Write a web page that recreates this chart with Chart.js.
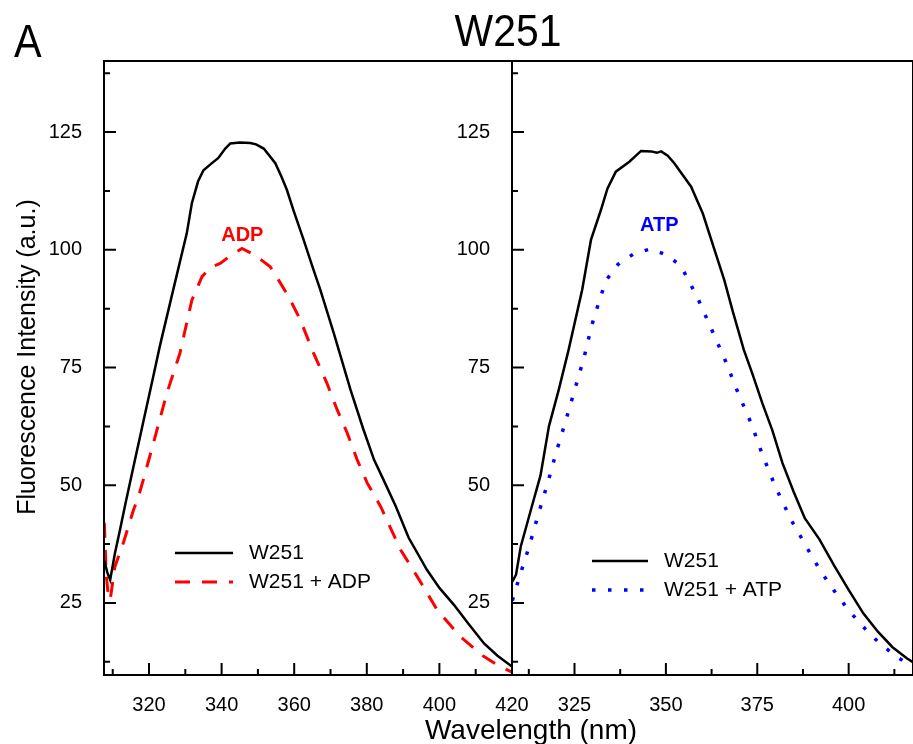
<!DOCTYPE html>
<html>
<head>
<meta charset="utf-8">
<script src="https://cdn.jsdelivr.net/npm/chart.js@4.4.1/dist/chart.umd.min.js"></script>
<style>
    body { margin: 0; background: #fff; }
    #wrap { position: relative; width: 913px; height: 744px; overflow: hidden; background: #fff;
            font-family: "Liberation Sans", Arial, sans-serif; color: #000; }
    #wrap canvas { position: absolute; top: 0; }
    .txt { position: absolute; white-space: nowrap; line-height: 1; }
</style>
</head>
<body>
<div id="wrap">
    <canvas id="leftPanel" width="560" height="744" style="left:0;width:560px;height:744px"></canvas>
    <canvas id="rightPanel" width="457" height="744" style="left:456px;width:457px;height:744px"></canvas>
    <div class="txt" style="left:14px;top:18px;font-size:46px;transform:scaleX(0.9);transform-origin:left top">A</div>
    <div class="txt" style="left:508px;top:9px;font-size:44px;transform:translateX(-50%) scaleX(0.93)">W251</div>
    <div class="txt" style="left:531px;top:716px;font-size:28px;transform:translateX(-50%)">Wavelength (nm)</div>
    <div class="txt" style="left:26px;top:357px;font-size:25px;transform:translate(-50%,-50%) rotate(-90deg)">Fluorescence Intensity (a.u.)</div>
</div>
<script>
// values
const leftW251Wl  = [307.7, 308.5, 309.3, 310.6, 312, 313.4, 315.2, 318.4, 321.2, 323, 326.7, 330.4, 331.8, 333.5, 335, 337, 339.1, 341, 342.4, 345, 347.9, 349.5, 351.6, 354.8, 356.5, 358, 359.8, 362.6, 365, 367.2, 370.9, 375.5, 379, 382, 385, 388, 391.5, 396.6, 400, 404, 408, 412.3, 416, 420];
const leftW251Int = [34, 31.5, 29.9, 35.5, 40.5, 45.7, 52.1, 63.4, 73.2, 79.6, 91.6, 103.5, 109.9, 114.5, 116.9, 118.2, 119.5, 121.5, 122.6, 122.8, 122.7, 122.4, 121.5, 118.4, 115.5, 112.7, 108.4, 102.1, 96.5, 91.5, 82.3, 70.3, 62, 55.4, 50.5, 45.5, 38.9, 32.0, 28.2, 24.6, 20.6, 16.4, 13.8, 11.5];

const leftAdpWl  = [307.7, 308.2, 308.8, 309.3, 310.6, 312.9, 315.7, 317.1, 318.4, 321.2, 324.9, 328.5, 331.8, 334.6, 337, 339.6, 342, 345.6, 348.4, 351, 353.4, 356, 358.5, 361.7, 365.3, 369, 371.8, 374.6, 377.3, 380.1, 383.8, 389.3, 393.9, 399.4, 405.8, 412.3, 416, 420];
const leftAdpInt = [42, 31, 26.5, 25.6, 32.7, 37.7, 44.7, 47.6, 51.1, 58.9, 69.5, 78.0, 89.3, 94.3, 96.3, 97.1, 98.5, 100.3, 99.2, 97.8, 96.4, 93.2, 90.0, 85.1, 78.1, 71.7, 66.1, 61.1, 55.5, 50.5, 45.5, 36.3, 30.6, 23.5, 17.8, 13.6, 11.8, 10.3];

const rightW251Wl  = [308, 309, 310.3, 313.4, 315.7, 318, 320.7, 323.4, 327.1, 329.5, 332.2, 334, 336.3, 340, 343.2, 346, 347.5, 348.7, 350.5, 352.3, 356.9, 360.1, 363.3, 366, 368.2, 371.3, 373.6, 376.4, 379.1, 381.9, 385, 388, 392, 396, 400, 404, 408, 412, 416, 418];
const rightW251Int = [29.5, 31, 37, 45.7, 52.1, 62.5, 70.3, 78.8, 91.5, 102.1, 108.4, 113, 116.6, 118.7, 121.0, 120.9, 120.6, 120.9, 120, 118.4, 113.4, 107.7, 100.0, 93.5, 87.2, 78.8, 73.8, 67.4, 61.7, 54.7, 48.5, 43, 38.5, 33, 27.8, 22.8, 18.9, 15.6, 13.2, 12.2];

const rightAtpWl  = [308, 309.8, 312.6, 314.9, 317.6, 320, 322.6, 325.1, 327.6, 329.7, 332.3, 334, 336.9, 341.3, 345.9, 350.2, 354.1, 356.4, 358.6, 362.5, 366.3, 369.7, 373.4, 376.5, 380, 384.3, 388.9, 391.6, 394.3, 397.5, 400.7, 404.4, 408.5, 413.1, 418];
const rightAtpInt = [25.5, 30.2, 37.0, 43.3, 50.3, 57.0, 63.7, 70.4, 77.1, 83.9, 90.5, 93.9, 96.9, 99.2, 100.2, 98.9, 96.6, 93.2, 89.9, 83.1, 76.4, 69.7, 63.0, 56.3, 49.6, 42.6, 36.3, 32.7, 29.5, 26.0, 22.8, 19.6, 16.4, 13.6, 11.2];

const leftXMajor  = [320, 340, 360, 380, 400, 420];
const leftXMinor  = [310, 330, 350, 370, 390, 410];
const rightXMajor = [325, 350, 375, 400];
const rightXMinor = [312.5, 337.5, 362.5, 387.5, 412.5];
const yMajor = [25, 50, 75, 100, 125];
const yMinor = [12.5, 37.5, 62.5, 87.5, 112.5, 137.5];

Chart.defaults.font.family = '"Liberation Sans", Arial, sans-serif';
Chart.defaults.color = '#000';

const toPoints = (wl, inten) => wl.map((x, i) => ({ x: x, y: inten[i] }));

// box around the plot plus inward major/minor ticks
const frameTicks = {
    id: 'frameTicks',
    afterDraw(chart, args, opts) {
        const ctx = chart.ctx;
        const a = chart.chartArea;
        const xs = chart.scales.x, ys = chart.scales.y;
        ctx.save();
        ctx.strokeStyle = '#000';
        ctx.lineWidth = 2;
        ctx.strokeRect(a.left, a.top, a.right - a.left, a.bottom - a.top);
        ctx.beginPath();
        const xTick = (v, len) => { const p = xs.getPixelForValue(v); ctx.moveTo(p, a.bottom); ctx.lineTo(p, a.bottom - len); };
        const yTick = (v, len) => { const p = ys.getPixelForValue(v); ctx.moveTo(a.left, p); ctx.lineTo(a.left + len, p); };
        opts.xMajor.forEach(v => xTick(v, 12));
        opts.xMinor.forEach(v => xTick(v, 6));
        yMajor.forEach(v => yTick(v, 12));
        yMinor.forEach(v => yTick(v, 6));
        ctx.stroke();
        ctx.restore();
    }
};

// legend inside the plot, drawn from the dataset styles
const inlineLegend = {
    id: 'inlineLegend',
    afterDatasetsDraw(chart, args, opts) {
        const ctx = chart.ctx;
        const a = chart.chartArea;
        chart.data.datasets.forEach((ds, i) => {
            const yy = a.top + opts.top + i * opts.gap;
            const x0 = a.left + opts.left;
            ctx.save();
            ctx.strokeStyle = ds.borderColor;
            ctx.lineWidth = ds.borderWidth;
            ctx.setLineDash(ds.borderDash || []);
            ctx.beginPath();
            ctx.moveTo(x0, yy);
            ctx.lineTo(x0 + opts.len, yy);
            ctx.stroke();
            ctx.setLineDash([]);
            ctx.fillStyle = '#000';
            ctx.font = '21px "Liberation Sans", Arial, sans-serif';
            ctx.textBaseline = 'middle';
            ctx.fillText(ds.label, x0 + opts.len + 16, yy);
            ctx.restore();
        });
        // the ligand tag above the peak
        const t = opts.tag;
        ctx.save();
        ctx.fillStyle = t.color;
        ctx.font = 'bold 20px "Liberation Sans", Arial, sans-serif';
        ctx.textAlign = 'center';
        ctx.textBaseline = 'middle';
        ctx.fillText(t.text, chart.scales.x.getPixelForValue(t.x), chart.scales.y.getPixelForValue(t.y));
        ctx.restore();
    }
};

function makePanel(canvasId, cfg) {
    return new Chart(document.getElementById(canvasId), {
        type: 'line',
        data: { datasets: cfg.datasets },
        options: {
            responsive: false,
            animation: false,
            layout: { padding: { top: 61, right: cfg.padRight, left: 0, bottom: 0 } },
            elements: { point: { radius: 0 }, line: { tension: 0 } },
            plugins: {
                legend: { display: false },
                tooltip: { enabled: false },
                frameTicks: { xMajor: cfg.xMajor, xMinor: cfg.xMinor },
                inlineLegend: cfg.legend
            },
            scales: {
                x: {
                    type: 'linear',
                    min: cfg.xMin,
                    max: cfg.xMax,
                    grid: { display: false },
                    border: { display: false },
                    ticks: { font: { size: 20 }, padding: 10, maxRotation: 0 },
                    afterBuildTicks: s => { s.ticks = cfg.xMajor.map(v => ({ value: v })); },
                    afterFit: s => { s.height = 69; s.paddingLeft = 0; s.paddingRight = 0; }
                },
                y: {
                    min: 9.7,
                    max: 140.1,
                    grid: { display: false },
                    border: { display: false },
                    ticks: { font: { size: 20 }, padding: 14 },
                    afterBuildTicks: s => { s.ticks = yMajor.map(v => ({ value: v })); },
                    afterFit: s => { s.width = cfg.yWidth; s.paddingTop = 0; s.paddingBottom = 0; }
                }
            }
        },
        plugins: [frameTicks, inlineLegend]
    });
}

makePanel('leftPanel', {
    xMin: 307.6, xMax: 420, padRight: 48, yWidth: 104,
    xMajor: leftXMajor, xMinor: leftXMinor,
    legend: { left: 71, len: 58, top: 492, gap: 29, tag: { text: 'ADP', color: '#ff0000', x: 345.7, y: 103.1 } },
    datasets: [
        { label: 'W251', data: toPoints(leftW251Wl, leftW251Int), borderColor: '#000', borderWidth: 2.5 },
        { label: 'W251 + ADP', data: toPoints(leftAdpWl, leftAdpInt), borderColor: '#ff0000', borderWidth: 3, borderDash: [15, 12] }
    ]
});

makePanel('rightPanel', {
    xMin: 307.9, xMax: 417.6, padRight: 0, yWidth: 56,
    xMajor: rightXMajor, xMinor: rightXMinor,
    legend: { left: 80, len: 56, top: 500, gap: 29, tag: { text: 'ATP', color: '#0000ff', x: 348.2, y: 105.1 } },
    datasets: [
        { label: 'W251', data: toPoints(rightW251Wl, rightW251Int), borderColor: '#000', borderWidth: 2.5 },
        { label: 'W251 + ATP', data: toPoints(rightAtpWl, rightAtpInt), borderColor: '#0000ff', borderWidth: 3.5, borderDash: [3.5, 12.5] }
    ]
});
</script>
</body>
</html>
